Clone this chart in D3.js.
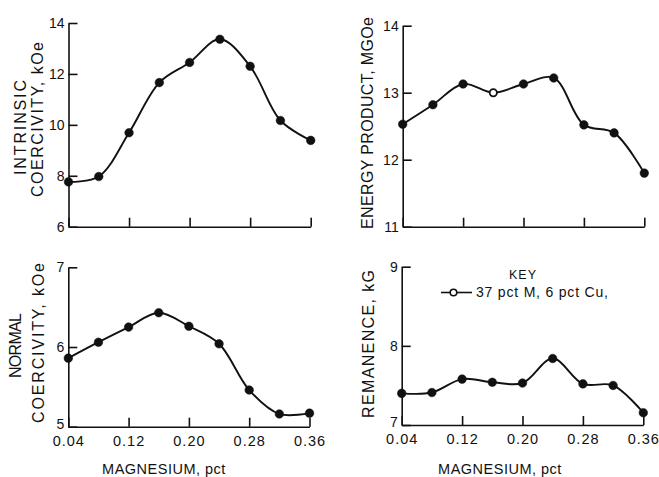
<!DOCTYPE html>
<html>
<head>
<meta charset="utf-8">
<script src="https://cdn.jsdelivr.net/npm/d3@7"></script>
<style>
  html, body { margin: 0; padding: 0; background: #fff; }
  svg { display: block; }
  text { font-family: "Liberation Sans", Arial, sans-serif; fill: #111; }
</style>
</head>
<body>
<svg id="chart" width="659" height="477"></svg>
<script>
// ---- data ----
const magnesium = [0.04, 0.08, 0.12, 0.16, 0.20, 0.24, 0.28, 0.32, 0.36];
const xTickValues = [0.04, 0.12, 0.20, 0.28, 0.36];
const xTickLabels = ["0.04", "0.12", "0.20", "0.28", "0.36"];

const intrinsicCoercivity = [7.76, 7.97, 9.69, 11.66, 12.45, 13.36, 12.3, 10.17, 9.39];
const energyProduct       = [12.53, 12.82, 13.13, 13.0, 13.13, 13.22, 12.52, 12.4, 11.8];
const normalCoercivity    = [5.86, 6.06, 6.25, 6.43, 6.26, 6.04, 5.46, 5.16, 5.17];
const remanence           = [7.40, 7.41, 7.58, 7.54, 7.53, 7.84, 7.52, 7.50, 7.155];

const intrinsicTicks = [6, 8, 10, 12, 14];
const energyTicks = [11, 12, 13, 14];
const normalTicks = [5, 6, 7];
const remanenceTicks = [7, 8, 9];

const energyOpenIndex = [3]; // open marker (key symbol)
const keyTitle = "KEY";
const keyLabel = "37 pct M, 6 pct Cu,";
const xTitle = "MAGNESIUM, pct";

// ---- layout ----
const svg = d3.select("#chart");

const panels = [
  { values: intrinsicCoercivity, domain: [6, 14], ticks: intrinsicTicks,
    xr: [68.5, 310.7], yr: [226.7, 23], showX: false, open: [],
    titles: [ {t: "INTRINSIC", cx: 20.5, cy: 127.5, len: 95},
              {t: "COERCIVITY, kOe", cx: 37.5, cy: 119.5, len: 155} ] },
  { values: energyProduct, domain: [11, 14], ticks: energyTicks,
    xr: [402.7, 644.3], yr: [226.7, 25.7], showX: false, open: energyOpenIndex,
    titles: [ {t: "ENERGY PRODUCT, MGOe", cx: 367.5, cy: 123, len: 212} ] },
  { values: normalCoercivity, domain: [5, 7], ticks: normalTicks,
    xr: [68.3, 309.5], yr: [426.7, 267.3], showX: true, open: [], xTitleX: 164,
    titles: [ {t: "NORMAL", cx: 15, cy: 345.5, len: 65},
              {t: "COERCIVITY, kOe", cx: 38, cy: 343, len: 160} ] },
  { values: remanence, domain: [7, 9], ticks: remanenceTicks,
    xr: [401.7, 643.3], yr: [425, 266.7], showX: true, open: [], xTitleX: 500,
    titles: [ {t: "REMANENCE, kG", cx: 368, cy: 344, len: 148} ] }
];

panels.forEach(p => {
  const x = d3.scaleLinear().domain([0.04, 0.36]).range(p.xr);
  const y = d3.scaleLinear().domain(p.domain).range(p.yr);
  const g = svg.append("g");

  // y axis
  const ya = g.append("g")
    .attr("transform", `translate(${p.xr[0]},0)`)
    .call(d3.axisLeft(y).tickValues(p.ticks).tickFormat(d3.format("d"))
      .tickSizeInner(-9).tickSizeOuter(0).tickPadding(4));
  ya.selectAll("text").style("font-size", "14px").attr("fill", "#111");
  if (p.showX) {
    ya.selectAll(".tick text").filter(d => d === p.domain[0]).attr("dy", "0.1em");
  }
  ya.selectAll("line, path").attr("stroke", "#111").attr("stroke-width", 1.6);

  // x axis
  const xa = g.append("g")
    .attr("transform", `translate(0,${p.yr[0]})`)
    .call(d3.axisBottom(x).tickValues(xTickValues)
      .tickFormat((d, i) => p.showX ? xTickLabels[i] : "")
      .tickSizeInner(-9).tickSizeOuter(0).tickPadding(9));
  xa.selectAll("text").style("font-size", "14.5px").style("letter-spacing", "1px").attr("fill", "#111");
  xa.selectAll("line, path").attr("stroke", "#111").attr("stroke-width", 1.6);

  // curve
  const pts = magnesium.map((m, i) => [m, p.values[i]]);
  g.append("path")
    .datum(pts)
    .attr("fill", "none")
    .attr("stroke", "#111")
    .attr("stroke-width", 1.9)
    .attr("d", d3.line().x(d => x(d[0])).y(d => y(d[1])).curve(d3.curveCatmullRom.alpha(0.5)));

  // markers
  g.selectAll("circle.pt")
    .data(pts)
    .join("circle")
    .attr("class", "pt")
    .attr("cx", d => x(d[0]))
    .attr("cy", d => y(d[1]))
    .attr("r", (d, i) => p.open.includes(i) ? 3.6 : 4.3)
    .attr("fill", (d, i) => p.open.includes(i) ? "#fff" : "#111")
    .attr("stroke", "#111")
    .attr("stroke-width", (d, i) => p.open.includes(i) ? 1.8 : 0.5);

  // y titles
  p.titles.forEach(tt => {
    g.append("text")
      .attr("transform", `translate(${tt.cx},${tt.cy}) rotate(-90)`)
      .attr("text-anchor", "middle")
      .attr("dy", "0.36em")
      .attr("textLength", tt.len)
      .attr("lengthAdjust", "spacing")
      .style("font-size", "16px")
      .text(tt.t);
  });

  // x title
  if (p.showX) {
    g.append("text")
      .attr("x", p.xTitleX)
      .attr("y", 474)
      .attr("text-anchor", "middle")
      .style("font-size", "14.5px")
      .style("letter-spacing", "0.5px")
      .text(xTitle);
  }
});

// key (bottom-right panel)
svg.append("text")
  .attr("x", 523).attr("y", 278.5)
  .attr("text-anchor", "middle")
  .style("font-size", "12.5px")
  .style("letter-spacing", "1px")
  .text(keyTitle);
svg.append("line")
  .attr("x1", 441).attr("x2", 472).attr("y1", 292.5).attr("y2", 292.5)
  .attr("stroke", "#111").attr("stroke-width", 1.6);
svg.append("circle")
  .attr("cx", 453.5).attr("cy", 292.5).attr("r", 3.3)
  .attr("fill", "#fff").attr("stroke", "#111").attr("stroke-width", 1.6);
svg.append("text")
  .attr("x", 476).attr("y", 297)
  .style("font-size", "14px")
  .style("letter-spacing", "0.8px")
  .text(keyLabel);
</script>
</body>
</html>
